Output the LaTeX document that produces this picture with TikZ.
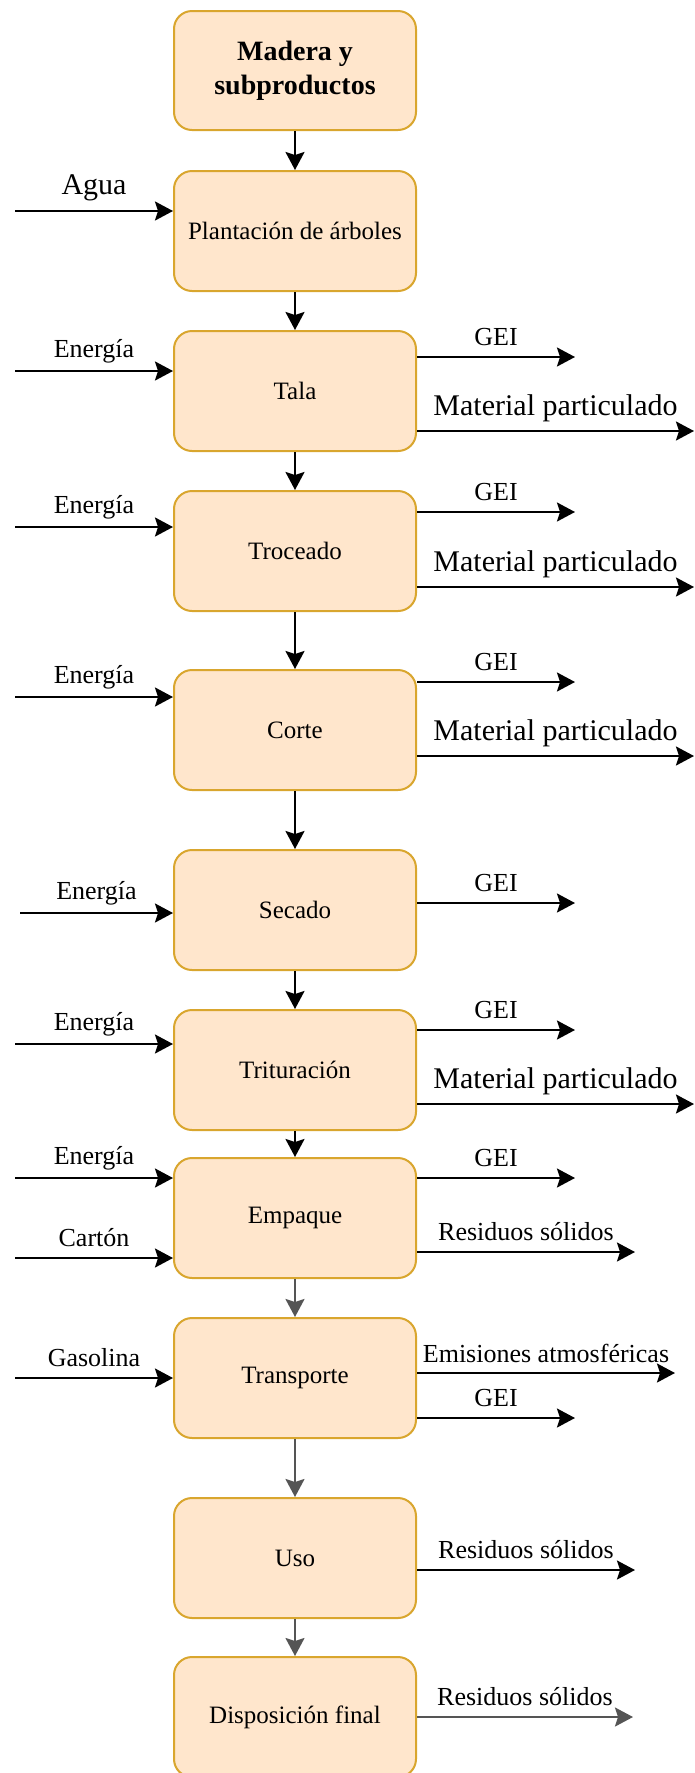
\documentclass[tikz,border=0pt]{standalone}
\usepackage{fontspec}
\setmainfont{Liberation Serif}
\usetikzlibrary{arrows.meta}
\definecolor{relleno}{HTML}{FFE6CC}
\definecolor{borde}{HTML}{D9A62E}
\definecolor{gris}{HTML}{555555}
\tikzset{
	proceso/.style={draw=borde, fill=relleno, line width=2pt, rounded corners=18pt,
		minimum width=242pt, minimum height=120pt, inner sep=0pt, align=center,
		font=\fontsize{25pt}{30pt}\selectfont},
	flecha/.style={line width=2pt, -{Stealth[length=18pt,width=19pt,inset=3pt]}},
	etiq/.style={midway, yshift=20pt, font=\fontsize{26pt}{31pt}\selectfont},
	etiqg/.style={midway, yshift=23pt, font=\fontsize{30pt}{36pt}\selectfont},
}
\begin{document}
\begin{tikzpicture}[x=1pt,y=-1pt]
	\useasboundingbox (0,0) rectangle (694,1773);
	\node[proceso, minimum height=119pt, font=\bfseries\fontsize{28pt}{34pt}\selectfont] (madera) at (295,70.5) {Madera y\\subproductos};
	\node[proceso] (plantacion) at (295,231) {Plantación de árboles};
	\node[proceso] (tala) at (295,391) {Tala};
	\node[proceso] (troceado) at (295,551) {Troceado};
	\node[proceso] (corte) at (295,730) {Corte};
	\node[proceso] (secado) at (295,910) {Secado};
	\node[proceso] (trituracion) at (295,1070) {Trituración};
	\node[proceso] (empaque) at (295,1218) {Empaque};
	\node[proceso] (transporte) at (295,1378) {Transporte};
	\node[proceso] (uso) at (295,1558) {Uso};
	\node[proceso] (disposicion) at (295,1717) {Disposición final};

	\draw[flecha] (madera) -- (plantacion);
	\draw[flecha] (plantacion) -- (tala);
	\draw[flecha] (tala) -- (troceado);
	\draw[flecha] (troceado) -- (corte);
	\draw[flecha] (corte) -- (secado);
	\draw[flecha] (secado) -- (trituracion);
	\draw[flecha] (trituracion) -- (empaque);
	\draw[flecha, gris] (empaque) -- (transporte);
	\draw[flecha, gris] (transporte) -- (uso);
	\draw[flecha, gris] (uso) -- (disposicion);

	\coordinate (eAgua) at (15,211);
	\coordinate (eTala) at (15,371);
	\coordinate (eTroceado) at (15,527);
	\coordinate (eCorte) at (15,697);
	\coordinate (eSecado) at (20,913);
	\coordinate (eTrituracion) at (15,1044);
	\coordinate (eEmpaque) at (15,1178);
	\coordinate (eCarton) at (15,1258);
	\coordinate (eGasolina) at (15,1378);
	\draw[flecha] (eAgua) -- node[etiqg] {Agua} (eAgua -| plantacion.west);
	\draw[flecha] (eTala) -- node[etiq] {Energía} (eTala -| tala.west);
	\draw[flecha] (eTroceado) -- node[etiq] {Energía} (eTroceado -| troceado.west);
	\draw[flecha] (eCorte) -- node[etiq] {Energía} (eCorte -| corte.west);
	\draw[flecha] (eSecado) -- node[etiq] {Energía} (eSecado -| secado.west);
	\draw[flecha] (eTrituracion) -- node[etiq] {Energía} (eTrituracion -| trituracion.west);
	\draw[flecha] (eEmpaque) -- node[etiq] {Energía} (eEmpaque -| empaque.west);
	\draw[flecha] (eCarton) -- node[etiq] {Cartón} (eCarton -| empaque.west);
	\draw[flecha] (eGasolina) -- node[etiq] {Gasolina} (eGasolina -| transporte.west);

	\coordinate (gTala) at (575,357);
	\coordinate (mTala) at (694,431);
	\coordinate (gTroceado) at (575,512);
	\coordinate (mTroceado) at (694,587);
	\coordinate (gCorte) at (575,682);
	\coordinate (mCorte) at (694,756);
	\coordinate (gSecado) at (575,903);
	\coordinate (gTrituracion) at (575,1030);
	\coordinate (mTrituracion) at (694,1104);
	\coordinate (gEmpaque) at (575,1178);
	\coordinate (rEmpaque) at (635,1252);
	\coordinate (aTransporte) at (675,1373);
	\coordinate (gTransporte) at (575,1418);
	\coordinate (rUso) at (635,1570);
	\coordinate (rDisposicion) at (633,1717);
	\draw[flecha] (gTala -| tala.east) -- node[etiq] {GEI} (gTala);
	\draw[flecha] (mTala -| tala.east) -- node[etiqg] {Material particulado} (mTala);
	\draw[flecha] (gTroceado -| troceado.east) -- node[etiq] {GEI} (gTroceado);
	\draw[flecha] (mTroceado -| troceado.east) -- node[etiqg] {Material particulado} (mTroceado);
	\draw[flecha] (gCorte -| corte.east) -- node[etiq] {GEI} (gCorte);
	\draw[flecha] (mCorte -| corte.east) -- node[etiqg] {Material particulado} (mCorte);
	\draw[flecha] (gSecado -| secado.east) -- node[etiq] {GEI} (gSecado);
	\draw[flecha] (gTrituracion -| trituracion.east) -- node[etiq] {GEI} (gTrituracion);
	\draw[flecha] (mTrituracion -| trituracion.east) -- node[etiqg] {Material particulado} (mTrituracion);
	\draw[flecha] (gEmpaque -| empaque.east) -- node[etiq] {GEI} (gEmpaque);
	\draw[flecha] (rEmpaque -| empaque.east) -- node[etiq] {Residuos sólidos} (rEmpaque);
	\draw[flecha] (aTransporte -| transporte.east) -- node[etiq] {Emisiones atmosféricas} (aTransporte);
	\draw[flecha] (gTransporte -| transporte.east) -- node[etiq] {GEI} (gTransporte);
	\draw[flecha] (rUso -| uso.east) -- node[etiq] {Residuos sólidos} (rUso);
	\draw[flecha, gris] (rDisposicion -| disposicion.east) -- node[etiq, black] {Residuos sólidos} (rDisposicion);
\end{tikzpicture}
\end{document}
